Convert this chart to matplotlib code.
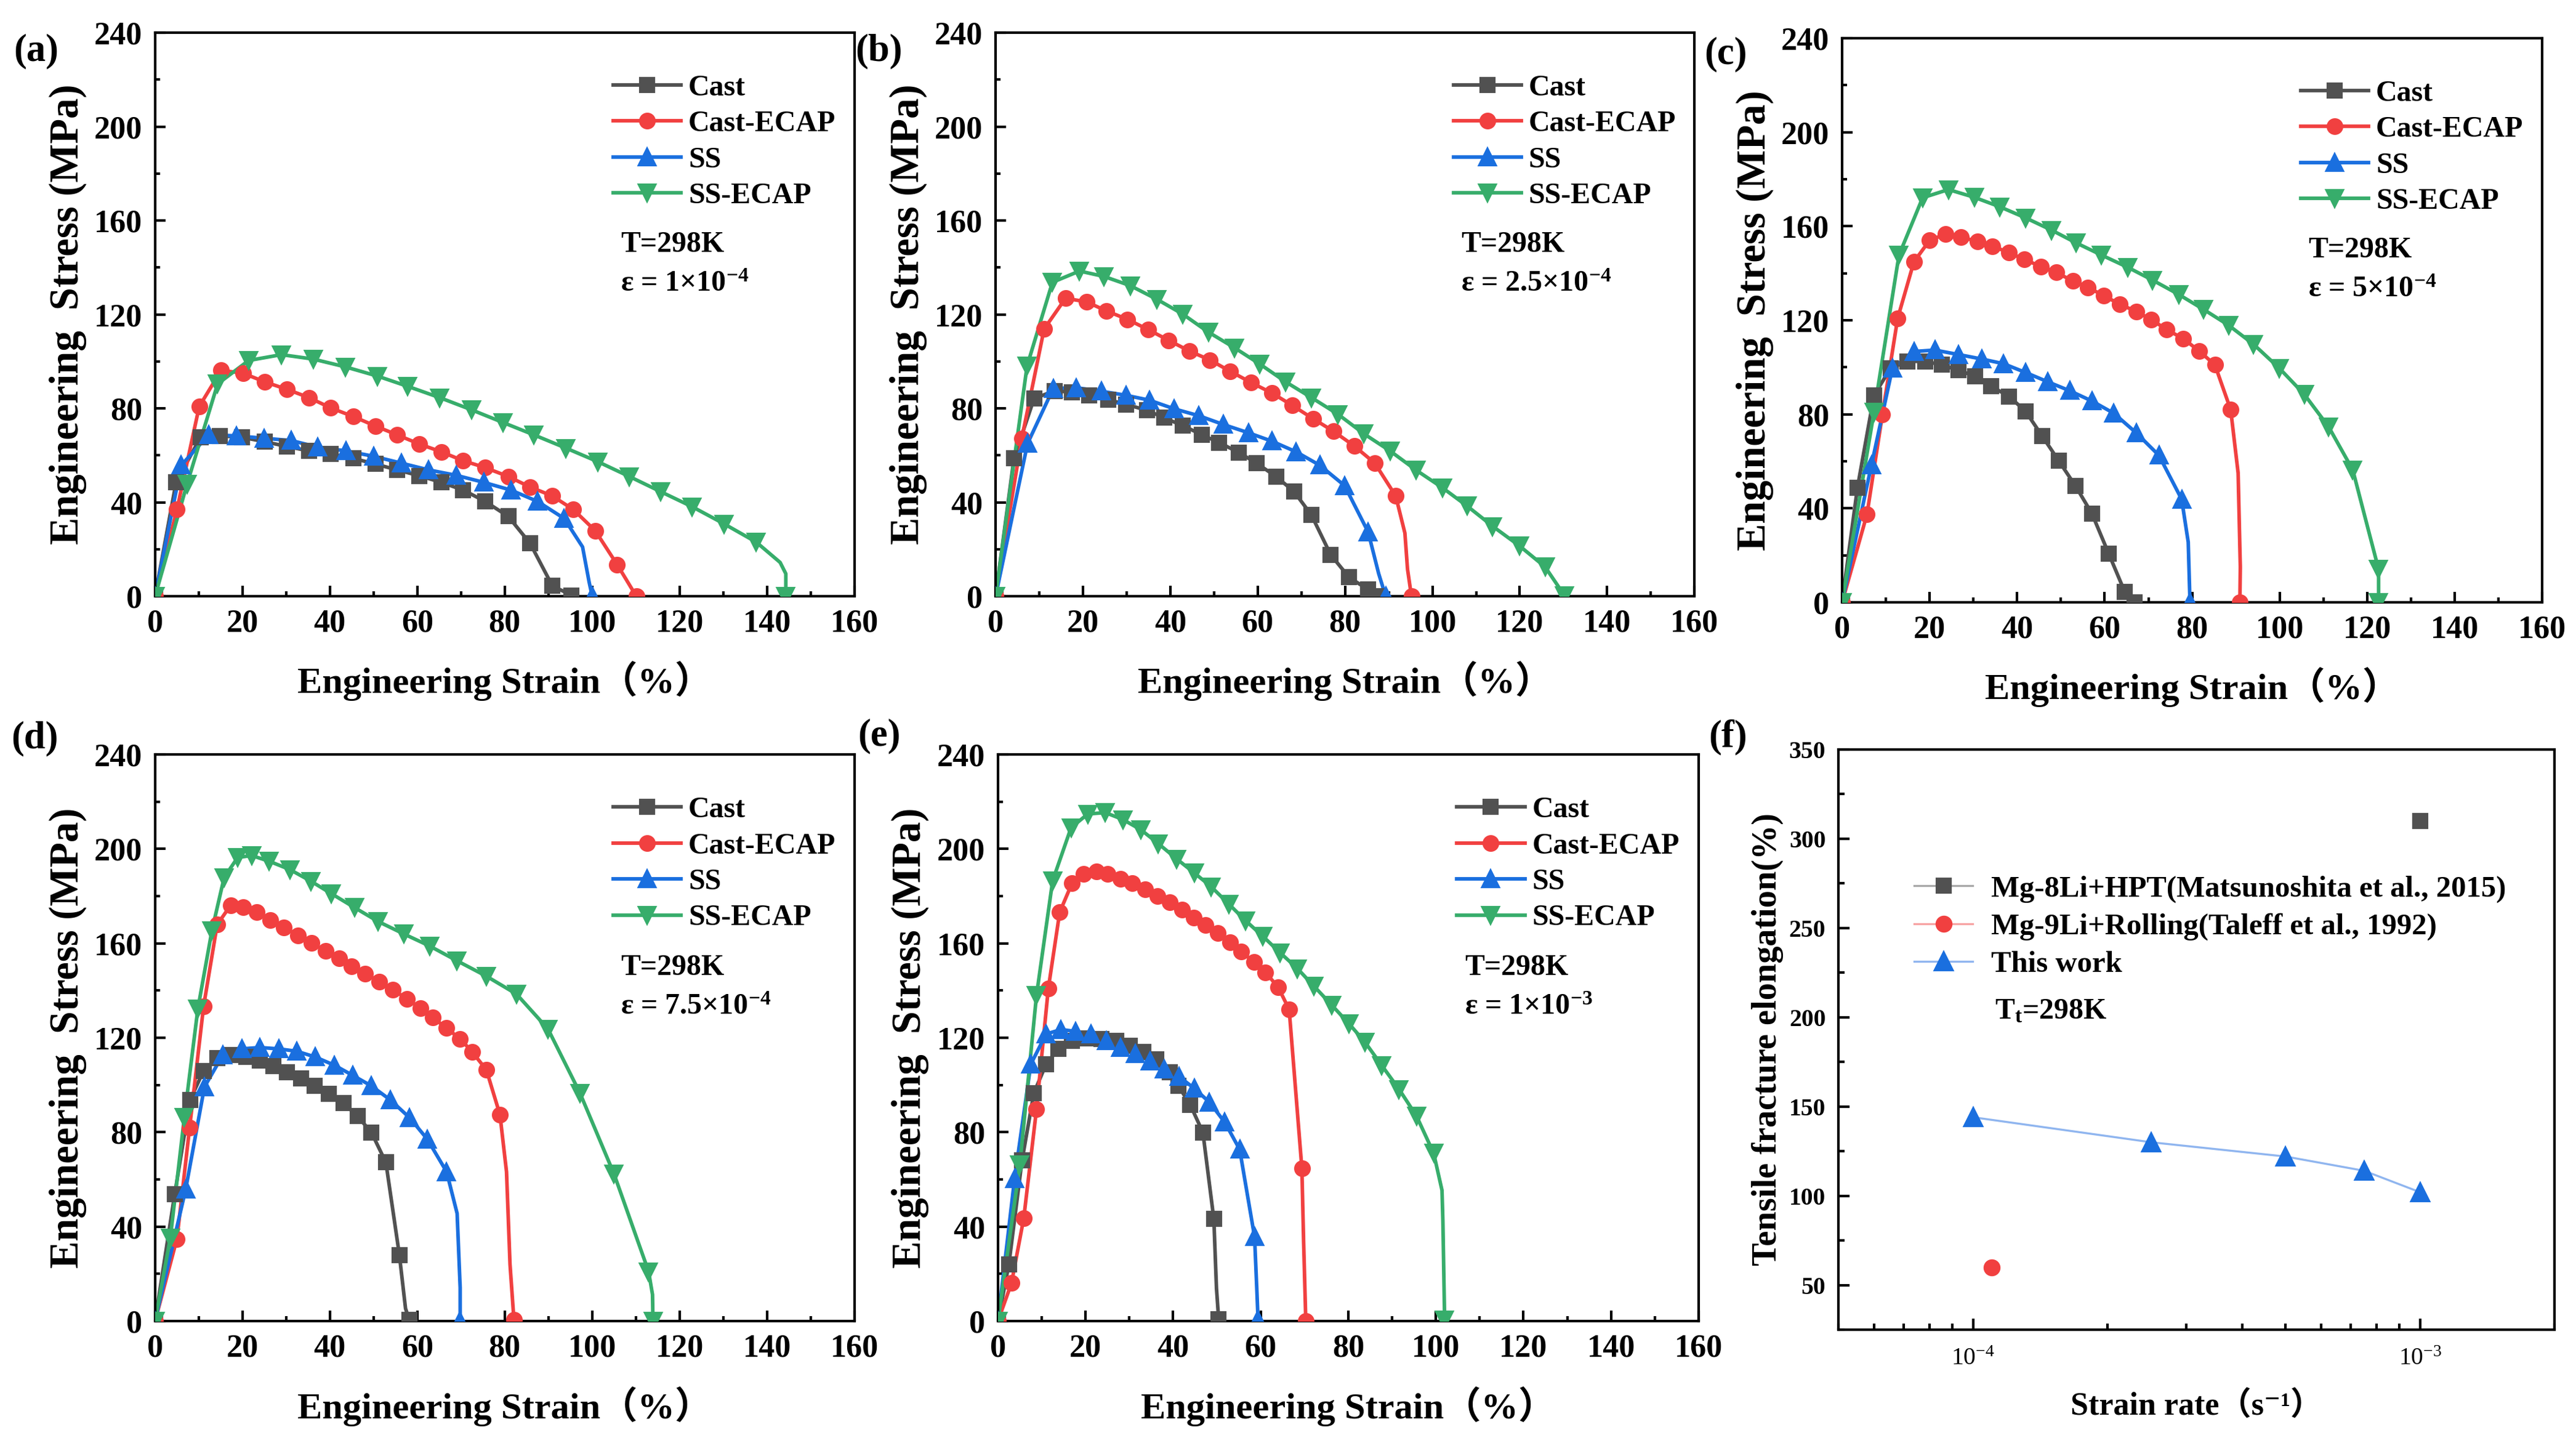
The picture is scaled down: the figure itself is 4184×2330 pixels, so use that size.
import matplotlib
matplotlib.use('Agg')
import matplotlib.pyplot as plt
from matplotlib.ticker import MultipleLocator, LogLocator, NullFormatter

plt.rcParams['font.family'] = ['Liberation Serif', 'DejaVu Serif', 'Noto Sans CJK SC']
plt.rcParams['font.weight'] = 'bold'
plt.rcParams['axes.labelweight'] = 'bold'
plt.rcParams['mathtext.default'] = 'regular'
plt.rcParams['axes.linewidth'] = 1.0

# ---------------- data ----------------
SERIES = ['Cast', 'Cast-ECAP', 'SS', 'SS-ECAP']
COLORS = ['#515151', '#F14040', '#1A6FDF', '#37AD6B']
MARKERS = ['s', 'o', '^', 'v']

# (a) strain rate 1e-4
A_CAST_X = [0, 4.8, 10.4, 14.8, 19.9, 25.1, 30.2, 35.2, 40.2, 45.4, 50.4, 55.4, 60.5, 65.5, 70.5, 75.5, 80.8, 85.8, 90.9, 95.3]
A_CAST_Y = [0, 48.5, 67.7, 68.3, 67.7, 65.8, 63.8, 61.9, 60.6, 58.7, 56.3, 53.8, 51.3, 48.5, 45.2, 40.4, 34.0, 22.5, 4.4, 0.4]
A_ECAP_X = [0, 5.0, 10.1, 15.1, 20.1, 25.1, 30.2, 35.2, 40.2, 45.4, 50.4, 55.4, 60.5, 65.5, 70.5, 75.5, 80.8, 85.8, 90.9, 95.7, 100.7, 105.7, 110.1]
A_ECAP_Y = [0, 36.9, 80.8, 96.2, 95.0, 91.3, 88.1, 84.6, 80.2, 76.5, 72.5, 68.7, 64.8, 61.5, 57.7, 54.8, 51.0, 46.5, 42.7, 36.9, 27.9, 13.5, 0]
A_SS_X = [0, 6.0, 12.3, 18.6, 24.9, 31.2, 37.2, 43.7, 50.0, 56.3, 62.6, 68.9, 75.2, 81.4, 87.5, 93.6, 100.0]
A_SS_Y = [0, 55.8, 68.8, 68.3, 67.3, 66.3, 63.5, 61.9, 59.6, 56.7, 53.8, 51.5, 48.5, 45.2, 40.4, 33.1, 0]
A_SSE_X = [0, 7.3, 14.3, 21.4, 28.9, 36.2, 43.5, 50.8, 57.8, 65.1, 72.4, 79.6, 86.7, 94.0, 101.3, 108.5, 115.6, 122.9, 130.2, 137.5, 144.3]
A_SSE_Y = [0, 47.7, 90.4, 100.4, 102.9, 101.0, 97.7, 93.8, 89.4, 84.6, 79.4, 74.0, 68.7, 63.1, 57.3, 51.0, 44.6, 38.1, 30.8, 23.1, 0]
# unmarked points of the final drop (just before the last marker)
A_SS_TAIL = ([97.8, 99.3], [21.0, 6.0])
A_SSE_TAIL = ([143.0, 144.3], [14.4, 9.6])

# (b) strain rate 2.5e-4
B_CAST_X = [0, 4.2, 8.8, 13.5, 17.4, 21.4, 25.8, 29.9, 34.6, 38.6, 42.8, 47.2, 51.2, 55.7, 59.7, 64.2, 68.3, 72.3, 76.7, 80.9, 85.2, 87.2]
B_CAST_Y = [0, 58.7, 84.2, 87.5, 86.9, 85.6, 83.7, 81.7, 79.2, 76.0, 72.7, 68.8, 65.4, 61.2, 56.7, 51.0, 44.6, 34.6, 17.7, 8.1, 2.9, 0]
B_ECAP_X = [0, 6.0, 11.1, 16.0, 20.8, 25.4, 30.2, 35.0, 39.6, 44.4, 49.1, 53.7, 58.5, 63.3, 67.9, 72.7, 77.4, 82.1, 86.8, 91.6, 95.2]
B_ECAP_Y = [0, 67.3, 113.8, 126.9, 125.4, 121.5, 117.9, 113.5, 109.0, 104.4, 100.6, 95.8, 91.0, 86.5, 81.3, 75.6, 70.2, 64.0, 56.7, 42.7, 0]
B_SS_X = [0, 7.3, 13.2, 18.5, 24.2, 29.8, 35.2, 40.9, 46.5, 52.2, 57.9, 63.3, 68.8, 74.2, 79.9, 85.3, 89.3]
B_SS_Y = [0, 65.0, 88.5, 88.8, 87.3, 85.6, 83.5, 79.8, 76.9, 73.1, 69.6, 66.0, 61.5, 55.8, 47.1, 27.3, 0]
B_SSE_X = [0, 7.2, 13.0, 19.2, 24.8, 30.8, 36.9, 42.8, 48.7, 54.7, 60.4, 66.4, 72.3, 78.4, 84.3, 90.3, 96.2, 102.3, 107.9, 113.8, 119.9, 125.8, 130.2]
B_SSE_Y = [0, 98.1, 133.7, 138.5, 136.2, 132.3, 126.5, 120.2, 112.5, 105.8, 99.0, 91.3, 84.6, 77.5, 69.2, 61.9, 53.8, 46.2, 38.5, 29.8, 21.5, 12.5, 0.4]
B_ECAP_TAIL = ([93.7, 94.3], [26.9, 11.5])
B_SS_TAIL = ([87.7], [9.6])

# (c) strain rate 5e-4
C_CAST_X = [0, 3.5, 7.3, 11.1, 14.9, 19.0, 22.8, 26.6, 30.4, 34.1, 38.2, 41.9, 45.7, 49.5, 53.3, 57.1, 60.9, 64.6, 66.9]
C_CAST_Y = [0, 48.7, 88.1, 99.6, 102.5, 102.5, 101.0, 98.7, 96.2, 91.9, 87.5, 81.3, 70.8, 60.2, 49.6, 37.7, 20.8, 4.4, 0]
C_ECAP_X = [0, 5.7, 9.2, 12.7, 16.4, 20.0, 23.7, 27.2, 30.9, 34.4, 38.2, 41.7, 45.4, 48.9, 52.7, 56.2, 59.8, 63.4, 67.2, 70.7, 74.2, 78.0, 81.6, 85.2, 88.8, 90.9]
C_ECAP_Y = [0, 37.5, 79.8, 120.8, 144.8, 154.0, 156.7, 155.4, 153.5, 151.5, 148.7, 145.8, 142.9, 140.4, 136.7, 134.0, 130.4, 126.9, 123.7, 120.2, 116.0, 112.1, 106.9, 101.0, 81.9, 0]
C_SS_X = [0, 6.7, 11.5, 16.5, 21.2, 26.6, 31.9, 36.9, 42.0, 47.0, 52.0, 57.1, 62.1, 67.2, 72.4, 77.6, 79.5]
C_SS_Y = [0, 58.3, 99.6, 106.7, 107.3, 105.4, 103.5, 101.5, 97.7, 93.8, 90.0, 85.6, 80.4, 72.1, 62.5, 43.8, 0]
C_SSE_X = [0, 7.3, 13.0, 18.4, 24.3, 30.2, 36.0, 42.0, 47.9, 53.5, 59.3, 65.3, 70.9, 76.9, 82.6, 88.3, 94.0, 99.9, 105.6, 111.2, 116.7, 122.6, 122.6]
C_SSE_Y = [0, 81.0, 147.7, 172.1, 175.6, 172.3, 168.3, 163.5, 158.3, 152.9, 147.7, 142.5, 137.1, 131.0, 124.6, 117.9, 109.8, 99.6, 88.5, 74.6, 56.3, 14.0, 0]
C_ECAP_TAIL = ([90.5, 91.0], [55.0, 15.0])
C_SS_TAIL = ([79.1], [25.6])

# (d) strain rate 7.5e-4
D_CAST_X = [0, 4.5, 8.0, 11.1, 14.2, 17.3, 20.9, 23.9, 27.1, 30.2, 33.4, 36.5, 39.7, 43.1, 46.3, 49.5, 52.8, 55.9, 58.2]
D_CAST_Y = [0, 53.8, 93.7, 106.0, 111.4, 112.7, 111.9, 110.4, 108.0, 105.5, 102.9, 99.6, 96.2, 92.3, 86.8, 79.9, 67.2, 27.9, 0.4]
D_ECAP_X = [0, 5.0, 7.9, 11.1, 14.2, 17.3, 20.2, 23.3, 26.4, 29.5, 32.7, 35.8, 39.0, 42.1, 45.0, 48.1, 51.3, 54.4, 57.6, 60.7, 63.6, 66.6, 69.8, 72.6, 75.8, 78.9, 82.1]
D_ECAP_Y = [0, 34.8, 81.9, 133.3, 167.9, 176.2, 175.2, 173.2, 169.9, 166.7, 163.4, 160.1, 156.9, 153.6, 150.2, 147.1, 143.8, 140.4, 136.5, 132.6, 128.6, 124.1, 119.6, 113.9, 106.4, 87.4, 0.4]
D_SS_X = [0, 7.0, 11.3, 15.5, 19.9, 23.9, 28.3, 32.4, 36.6, 41.0, 45.2, 49.5, 53.8, 58.2, 62.3, 66.7, 69.8]
D_SS_Y = [0, 55.8, 99.2, 112.7, 115.3, 115.9, 115.3, 114.3, 111.9, 108.4, 104.1, 99.6, 93.7, 86.2, 77.0, 63.2, 0]
D_SSE_X = [0, 3.5, 6.7, 9.8, 13.0, 15.8, 18.9, 22.1, 26.1, 30.8, 35.6, 40.3, 45.6, 51.0, 56.9, 62.8, 69.1, 75.8, 82.7, 89.9, 97.2, 105.0, 112.9, 113.9]
D_SSE_Y = [0, 35.3, 86.4, 132.4, 165.4, 187.9, 196.4, 197.2, 194.8, 191.3, 186.4, 181.1, 175.2, 169.3, 164.0, 158.9, 152.6, 146.1, 138.5, 123.7, 96.6, 62.3, 21.0, 0]
D_CAST_TAIL = ([57.3], [5.3])
D_ECAP_TAIL = ([80.4, 81.2], [63.2, 24.0])
D_SS_TAIL = ([69.1, 69.8], [45.6, 14.1])
D_SSE_TAIL = ([113.8], [11.2])

# (e) strain rate 1e-3
E_CAST_X = [0, 2.5, 5.5, 8.2, 11.0, 13.8, 16.9, 20.3, 23.6, 27.0, 30.1, 33.2, 36.1, 39.2, 41.2, 43.9, 46.8, 49.3, 50.4]
E_CAST_Y = [0, 24.0, 68.0, 96.6, 108.8, 115.3, 118.6, 119.8, 119.6, 118.6, 116.7, 113.9, 110.8, 105.5, 99.6, 91.7, 79.9, 43.2, 0.8]
E_ECAP_X = [0, 3.1, 5.9, 8.8, 11.5, 14.1, 16.9, 19.6, 22.5, 25.1, 28.0, 30.7, 33.6, 36.4, 39.2, 42.0, 44.7, 47.4, 50.2, 53.0, 55.6, 58.5, 61.1, 64.0, 66.5, 69.4, 70.3]
E_ECAP_Y = [0, 16.1, 43.6, 89.7, 140.8, 173.2, 185.4, 189.3, 190.5, 189.3, 187.4, 185.4, 183.0, 180.1, 177.5, 174.2, 170.9, 167.7, 164.4, 160.4, 156.5, 152.0, 147.7, 141.4, 132.0, 64.8, 0]
E_SS_X = [0, 3.8, 7.5, 11.0, 14.4, 17.8, 21.3, 24.7, 28.0, 31.4, 34.8, 38.0, 41.4, 44.8, 48.3, 51.8, 55.2, 58.6, 59.4]
E_SS_Y = [0, 60.3, 108.8, 121.6, 123.5, 122.7, 121.6, 118.8, 115.9, 113.3, 110.0, 106.8, 103.5, 98.6, 92.7, 84.2, 72.7, 35.7, 0.4]
E_SSE_X = [0, 5.0, 8.8, 12.5, 16.7, 20.5, 24.5, 28.5, 32.6, 36.6, 40.8, 44.8, 48.7, 52.7, 56.5, 60.5, 64.4, 68.4, 72.2, 76.2, 80.1, 83.8, 87.6, 91.6, 95.6, 99.5, 102.0]
E_SSE_Y = [0, 66.2, 137.9, 186.6, 209.0, 214.8, 215.4, 212.5, 208.2, 202.3, 195.8, 189.9, 184.0, 176.7, 169.7, 163.0, 156.1, 149.3, 141.8, 133.9, 126.1, 118.2, 108.4, 98.2, 86.8, 71.1, 0.4]
E_CAST_TAIL = ([49.9], [14.0])
E_ECAP_TAIL = ([69.8], [33.8])
E_SS_TAIL = ([59.1], [14.1])
E_SSE_TAIL = ([101.4, 101.6], [55.4, 42.6])

# (f) elongation vs strain rate
HPT_RATE = [1e-3]
HPT_ELONG = [310]
ROLL_RATE = [1.1e-4]
ROLL_ELONG = [60]
WORK_RATE = [1e-4, 2.5e-4, 5e-4, 7.5e-4, 1e-3]
WORK_ELONG = [144, 130, 122, 114, 102]

NONE = ([], [])
PANELS = [
    ('(a)', 'ε = 1×10$^{-4}$', [(A_CAST_X, A_CAST_Y, NONE), (A_ECAP_X, A_ECAP_Y, NONE),
                                (A_SS_X, A_SS_Y, A_SS_TAIL), (A_SSE_X, A_SSE_Y, A_SSE_TAIL)]),
    ('(b)', 'ε = 2.5×10$^{-4}$', [(B_CAST_X, B_CAST_Y, NONE), (B_ECAP_X, B_ECAP_Y, B_ECAP_TAIL),
                                  (B_SS_X, B_SS_Y, B_SS_TAIL), (B_SSE_X, B_SSE_Y, NONE)]),
    ('(c)', 'ε = 5×10$^{-4}$', [(C_CAST_X, C_CAST_Y, NONE), (C_ECAP_X, C_ECAP_Y, C_ECAP_TAIL),
                                (C_SS_X, C_SS_Y, C_SS_TAIL), (C_SSE_X, C_SSE_Y, NONE)]),
    ('(d)', 'ε = 7.5×10$^{-4}$', [(D_CAST_X, D_CAST_Y, D_CAST_TAIL), (D_ECAP_X, D_ECAP_Y, D_ECAP_TAIL),
                                  (D_SS_X, D_SS_Y, D_SS_TAIL), (D_SSE_X, D_SSE_Y, D_SSE_TAIL)]),
    ('(e)', 'ε = 1×10$^{-3}$', [(E_CAST_X, E_CAST_Y, E_CAST_TAIL), (E_ECAP_X, E_ECAP_Y, E_ECAP_TAIL),
                                (E_SS_X, E_SS_Y, E_SS_TAIL), (E_SSE_X, E_SSE_Y, E_SSE_TAIL)]),
]

# axes rectangles in figure fraction and panel label positions
RECTS = [
    [0.0602, 0.5845, 0.2715, 0.3927],
    [0.3865, 0.5845, 0.2713, 0.3927],
    [0.7151, 0.5803, 0.2718, 0.3931],
    [0.0602, 0.0794, 0.2715, 0.3948],
    [0.3874, 0.0794, 0.2720, 0.3948],
]
LABEL_POS = [(0.0053, 0.964), (0.332, 0.964), (0.6616, 0.962), (0.0043, 0.4854), (0.333, 0.487)]

fig = plt.figure(figsize=(4184 / 300, 2330 / 300), dpi=300)

for (tag, rate, curves), rect, lpos in zip(PANELS, RECTS, LABEL_POS):
    ax = fig.add_axes(rect)
    for (x, y, tail), name, c, m in zip(curves, SERIES, COLORS, MARKERS):
        lx = x[:-1] + tail[0] + x[-1:]
        ly = y[:-1] + tail[1] + y[-1:]
        ms = 5.5 if m in 'so' else 6.2
        ax.plot(lx, ly, color=c, lw=1.4, zorder=2)
        ax.plot(x, y, ls='none', marker=m, color=c, ms=ms, zorder=3)
        ax.plot([], [], color=c, lw=1.4, marker=m, ms=ms, label=name)
    ax.set_xlim(0, 160)
    ax.set_ylim(0, 240)
    ax.xaxis.set_major_locator(MultipleLocator(20))
    ax.xaxis.set_minor_locator(MultipleLocator(10))
    ax.yaxis.set_major_locator(MultipleLocator(40))
    ax.yaxis.set_minor_locator(MultipleLocator(20))
    ax.tick_params(which='both', direction='in', width=1.0, labelsize=12.5)
    ax.tick_params(which='major', length=4, pad=5)
    ax.tick_params(which='minor', length=2)
    ax.set_xlabel('Engineering Strain（%）', fontsize=14.5)
    ax.set_ylabel('Engineering  Stress (MPa)', fontsize=16)
    ax.xaxis.set_label_coords(0.5, -0.115)
    ax.yaxis.set_label_coords(-0.098, 0.5)
    ax.legend(loc='upper left', bbox_to_anchor=(0.655, 0.926), frameon=False, fontsize=11.5,
              handlelength=2.3, handletextpad=0.25, labelspacing=0.30, borderpad=0, borderaxespad=0)
    ax.text(0.666, 0.624, 'T=298K', transform=ax.transAxes, fontsize=11.5, va='center')
    ax.text(0.666, 0.554, rate, transform=ax.transAxes, fontsize=11.5, va='center')
    fig.text(lpos[0], lpos[1], tag, fontsize=15, va='center', ha='left')

# panel (f)
axf = fig.add_axes([0.7137, 0.0734, 0.2780, 0.4043])
axf.plot(HPT_RATE, HPT_ELONG, color='#a8a8a8', lw=0.8, marker='s', ms=5.2, mfc='#515151', mec='#515151',
         label='Mg-8Li+HPT(Matsunoshita et al., 2015)')
axf.plot(ROLL_RATE, ROLL_ELONG, color='#f7a3a3', lw=0.8, marker='o', ms=5.6, mfc='#F14040', mec='#F14040',
         label='Mg-9Li+Rolling(Taleff et al., 1992)')
axf.plot(WORK_RATE, WORK_ELONG, color='#8fb5ef', lw=0.8, marker='^', ms=6.5, mfc='#1A6FDF', mec='#1A6FDF',
         label='This work')
axf.set_xscale('log')
axf.set_xlim(5e-5, 2e-3)
axf.set_ylim(25, 350)
axf.yaxis.set_major_locator(MultipleLocator(50))
axf.yaxis.set_minor_locator(MultipleLocator(25))
axf.xaxis.set_major_locator(LogLocator(base=10))
axf.xaxis.set_minor_locator(LogLocator(base=10, subs=range(2, 10)))
axf.xaxis.set_minor_formatter(NullFormatter())
axf.tick_params(which='both', direction='in', width=1.0, labelsize=9.5)
axf.tick_params(which='major', length=4.4, pad=5)
axf.tick_params(which='minor', length=2.4)
axf.tick_params(axis='x', which='major', pad=7)
for lab in axf.get_xticklabels():
    lab.set_fontweight('normal')
axf.set_xlabel('Strain rate（s⁻¹）', fontsize=12.5)
axf.set_ylabel('Tensile fracture elongation(%)', fontsize=13.5)
axf.xaxis.set_label_coords(0.5, -0.105)
axf.yaxis.set_label_coords(-0.077, 0.5)
axf.legend(loc='upper left', bbox_to_anchor=(0.106, 0.783), frameon=False, fontsize=11.7, numpoints=1,
           handlelength=1.95, handletextpad=0.6, labelspacing=0.34, borderpad=0, borderaxespad=0)
axf.text(0.218, 0.548, 'T$_t$=298K', transform=axf.transAxes, fontsize=11.5, va='center')
fig.text(0.6632, 0.486, '(f)', fontsize=15, va='center', ha='left')

fig.savefig('out.png', dpi=300)
